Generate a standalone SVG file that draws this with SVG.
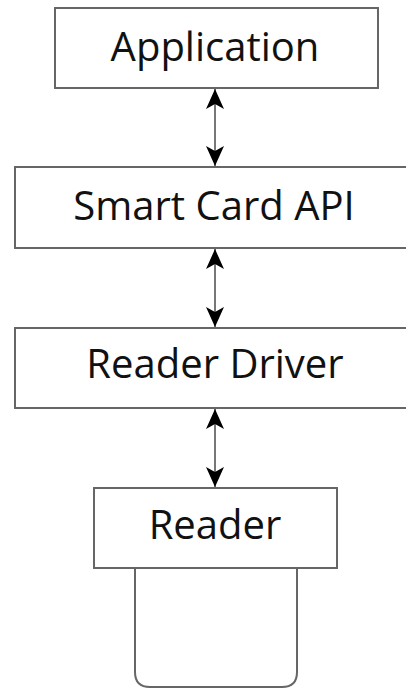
<svg xmlns="http://www.w3.org/2000/svg" width="406" height="688" viewBox="0 0 406 688">
<style>
.box{fill:#fff;stroke:#666;stroke-width:2}
.lbl{font-family:"Open Sans","DejaVu Sans",sans-serif;font-size:40px;fill:#111;text-anchor:middle}
.conn{stroke:#777;stroke-width:2;fill:none}
</style>
<defs>
<marker id="ah" viewBox="0 0 20 18" refX="20" refY="9" markerWidth="20" markerHeight="18" markerUnits="userSpaceOnUse" orient="auto-start-reverse">
<path d="M0,0 L20,9 L0,18 L5,9 Z" fill="#000"/>
</marker>
</defs>
<g id="connectors">
<line class="conn" x1="215" y1="89" x2="215" y2="166" marker-start="url(#ah)" marker-end="url(#ah)"/>
<line class="conn" x1="215" y1="249" x2="215" y2="327" marker-start="url(#ah)" marker-end="url(#ah)"/>
<line class="conn" x1="215" y1="409" x2="215" y2="487" marker-start="url(#ah)" marker-end="url(#ah)"/>
</g>
<g id="application">
<rect class="box" x="55" y="8" width="323" height="80"/>
<text class="lbl" x="215" y="61">Application</text>
</g>
<g id="smartcardapi">
<rect class="box" x="15" y="167" width="392" height="81"/>
<text class="lbl" x="214" y="220">Smart Card API</text>
</g>
<g id="readerdriver">
<rect class="box" x="15" y="328" width="392" height="80"/>
<text class="lbl" x="215" y="378">Reader Driver</text>
</g>
<g id="card">
<path class="box" d="M135,568 V672 Q135,687 150,687 H282 Q297,687 297,672 V568"/>
</g>
<g id="reader">
<rect class="box" x="94" y="488" width="243" height="80"/>
<text class="lbl" x="215" y="539">Reader</text>
</g>
</svg>
